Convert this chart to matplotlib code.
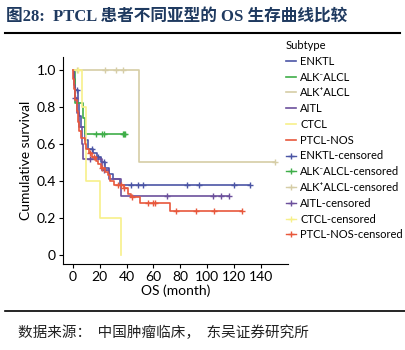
import numpy as np
import matplotlib.pyplot as plt
from matplotlib.lines import Line2D

plt.rcParams['font.family'] = ['Lato', 'DejaVu Sans']

# Kaplan-Meier steps: (event times, survival after event)
enktl_t = [0, 1, 2, 4, 5, 6, 9, 11, 15, 18, 21, 24, 27, 30, 35]
enktl_s = [1.0, 0.95, 0.89, 0.82, 0.75, 0.69, 0.62, 0.57, 0.55, 0.53, 0.50, 0.47, 0.44, 0.41, 0.38]
enktl_end = 132
enktl_cens = [3, 14, 19, 23, 43, 48.5, 52.5, 85, 94, 120, 132]

alkneg_t = [0, 1.5, 8, 9]
alkneg_s = [1.0, 0.82, 0.74, 0.655]
alkneg_end = 39
alkneg_cens = [17, 22, 23, 37, 38, 39]

alkpos_t = [0, 49]
alkpos_s = [1.0, 0.5]
alkpos_end = 150
alkpos_cens = [3, 24, 32, 37, 150]

aitl_t = [0, 1, 2, 3, 4.5, 7, 8, 22, 27, 36]
aitl_s = [1.0, 0.92, 0.85, 0.77, 0.69, 0.60, 0.52, 0.46, 0.41, 0.32]
aitl_end = 116
aitl_cens = [2, 13, 23, 70, 104, 110, 116]

ctcl_t = [0, 7, 9.5, 20, 36]
ctcl_s = [1.0, 0.8, 0.4, 0.2, 0.0]
ctcl_end = 36
ctcl_cens = [4]

nos_t = [0, 0.5, 1, 2, 3, 4, 5, 6, 9, 10, 12, 14, 17, 19, 21, 24, 26, 28, 31, 38, 41, 43, 50, 72]
nos_s = [1.0, 0.95, 0.90, 0.84, 0.78, 0.72, 0.67, 0.63, 0.60, 0.57, 0.55, 0.53, 0.51, 0.49,
         0.47, 0.45, 0.43, 0.40, 0.38, 0.36, 0.33, 0.315, 0.28, 0.237]
nos_end = 126
nos_cens = [13, 16, 22, 34, 36, 38, 44, 56, 60, 61.5, 77, 91.5, 105, 126]

groups = [
    ('ENKTL', enktl_t, enktl_s, enktl_end, enktl_cens, '#4b55a5'),
    ('ALK\u207bALCL', alkneg_t, alkneg_s, alkneg_end, alkneg_cens, '#3fae49'),
    ('ALK\u207aALCL', alkpos_t, alkpos_s, alkpos_end, alkpos_cens, '#d6cda6'),
    ('AITL', aitl_t, aitl_s, aitl_end, aitl_cens, '#6c509c'),
    ('CTCL', ctcl_t, ctcl_s, ctcl_end, ctcl_cens, '#f7f08a'),
    ('PTCL-NOS', nos_t, nos_s, nos_end, nos_cens, '#e8583c'),
]

fig = plt.figure(figsize=(4.05, 3.5), dpi=100)
ax = fig.add_axes([0.155, 0.2457, 0.556, 0.591])

for name, t, s, end, cens, col in groups:
    xs = list(t) + [end]
    ys = list(s) + [s[-1]]
    ax.step(xs, ys, where='post', color=col, lw=1.2)
    idx = np.searchsorted(t, cens, side='right') - 1
    cy = np.array(s)[idx]
    ax.plot(cens, cy, ls='none', marker='+', ms=4.5, mew=1.0, color=col)

ax.set_xlim(-7.4, 160)
ax.set_ylim(-0.05, 1.07)
ax.set_xticks(range(0, 141, 20))
ax.set_yticks([0, 0.2, 0.4, 0.6, 0.8, 1.0])
ax.set_yticklabels(['0', '0.2', '0.4', '0.6', '0.8', '1.0'])
for sp in ['top', 'right']:
    ax.spines[sp].set_visible(False)
ax.tick_params(labelsize=10, length=3, width=0.8, direction='out', pad=2)
ax.set_xlabel('OS (month)', fontsize=10, labelpad=1)
ax.set_ylabel('Cumulative survival', fontsize=10, labelpad=3)

handles = []
for name, t, s, end, cens, col in groups:
    handles.append(Line2D([], [], color=col, lw=1.2, label=name))
for name, t, s, end, cens, col in groups:
    handles.append(Line2D([], [], color=col, lw=1.0, marker='+', ms=4, mew=1.0,
                          label=name + '-censored'))
leg = fig.legend(handles=handles, loc='upper left', bbox_to_anchor=(286 / 405, 1 - 40 / 350),
                 frameon=False, fontsize=8, title='Subtype', title_fontsize=8,
                 alignment='left', handlelength=0.9, handletextpad=0.4, numpoints=1,
                 labelspacing=0.43, borderpad=0, borderaxespad=0)

title_font = ['Liberation Serif', 'Noto Sans CJK SC']
cjk = ['Noto Sans CJK SC', 'DejaVu Sans']
fig.text(0.015, 1 - 17 / 350, '图28:  PTCL 患者不同亚型的 OS 生存曲线比较', family=title_font,
         fontsize=12, fontweight='bold', color='#1f3a60', va='center', ha='left')
fig.add_artist(Line2D([5 / 405, 400 / 405], [1 - 33 / 350] * 2, color='black', lw=1.5))
fig.add_artist(Line2D([5 / 405, 1.0], [1 - 311 / 350] * 2, color='black', lw=1.2))
fig.text(18 / 405, 1 - 333 / 350, '数据来源：  中国肿瘤临床，  东吴证券研究所', family=cjk,
         fontsize=10.5, color='#222222', va='center', ha='left')

fig.savefig('out.png', dpi=100)
